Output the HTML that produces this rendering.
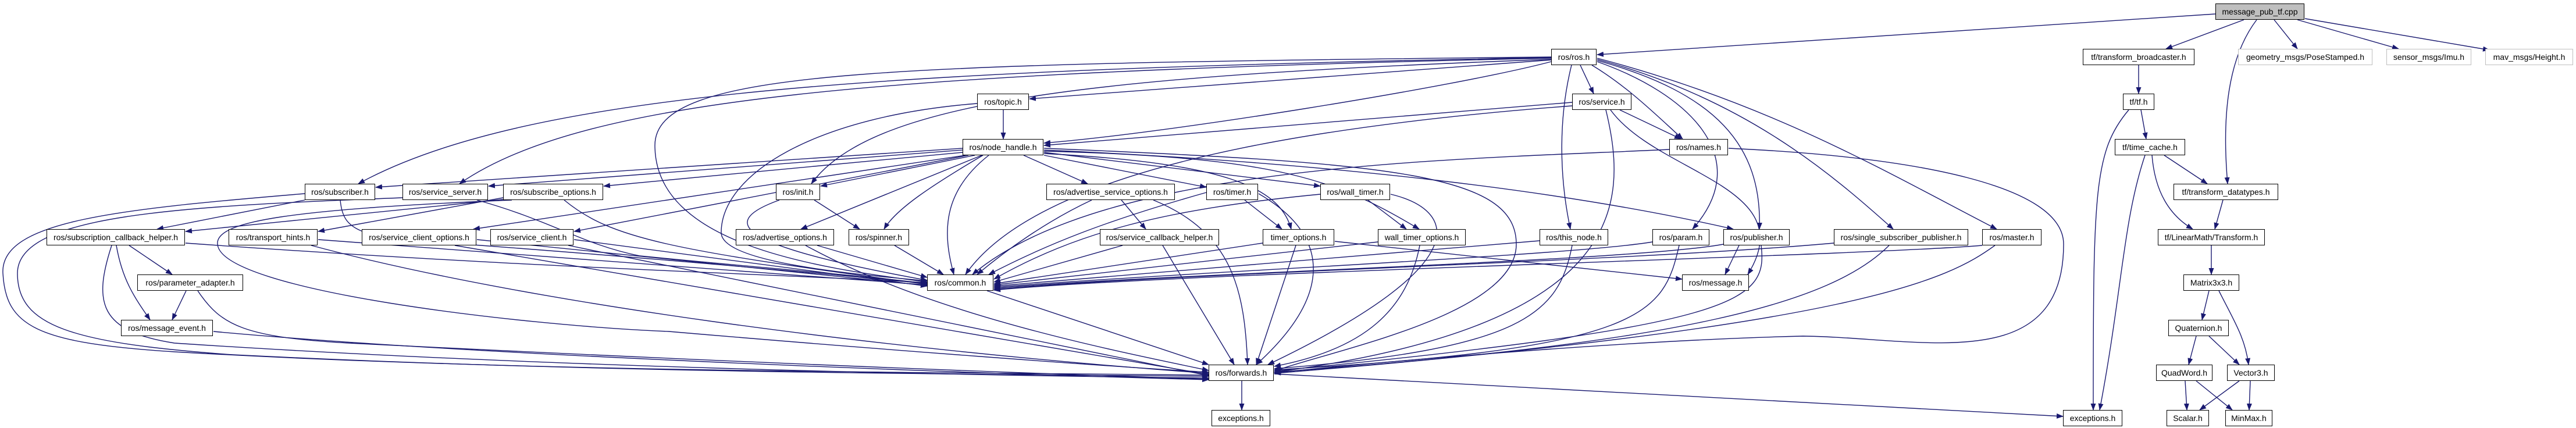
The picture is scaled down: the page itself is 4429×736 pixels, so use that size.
<!DOCTYPE html>
<html><head><meta charset="utf-8"><style>
body{margin:0;width:4429px;height:736px;background:#fff;overflow:hidden;position:relative;font-family:"Liberation Sans",sans-serif}
svg{position:absolute;left:0;top:0}
.n{position:absolute;height:26px;border:1.5px solid #000;background:#fff;font-size:14px;line-height:26px;text-align:center;white-space:nowrap;color:#000;box-sizing:content-box}
.g{border-color:#bfbfbf}
.c{background:#bfbfbf}
</style></head><body>
<svg width="4429" height="736" viewBox="0 0 4429 736">
<defs><marker id="a" markerWidth="12" markerHeight="9" refX="11" refY="4.5" orient="auto" markerUnits="userSpaceOnUse"><path d="M0,0 L12,4.5 L0,9z" fill="#191970"/></marker></defs>
<g fill="none" stroke="#191970" stroke-width="1.4" marker-end="url(#a)">
<path d="M3809 24 L2746 94"/>
<path d="M3858 34 L3724 84"/>
<path d="M3880 34 C3830 100 3820 200 3830 316"/>
<path d="M3910 34 L3950 84"/>
<path d="M3950 34 L4124 84"/>
<path d="M3963 32 L4280 86"/>
<path d="M3677 112 L3677 161"/>
<path d="M3660 189 C3600 260 3599 330 3599 705"/>
<path d="M3681 189 L3690 239"/>
<path d="M3688 267 C3650 380 3649 500 3610 705"/>
<path d="M3721 267 L3795 316"/>
<path d="M3700 267 C3705 330 3730 370 3770 394"/>
<path d="M3822 344 L3808 394"/>
<path d="M3802 422 L3802 472"/>
<path d="M3798 500 L3786 550"/>
<path d="M3815 500 C3840 550 3860 580 3866 627"/>
<path d="M3776 578 L3763 627"/>
<path d="M3798 578 L3850 627"/>
<path d="M3757 655 L3760 705"/>
<path d="M3776 655 L3838 705"/>
<path d="M3850 655 L3782 705"/>
<path d="M3869 655 L3867 705"/>
<path d="M2717 112 L2740 161"/>
<path d="M2737 112 C2800 150 2850 200 2893 239"/>
<path d="M2702 112 C2680 200 2680 300 2700 394"/>
<path d="M2746 106 C2900 160 3020 270 2910 394"/>
<path d="M2746 104 C2950 160 3030 250 3025 394"/>
<path d="M2746 102 C3000 170 3150 300 3255 394"/>
<path d="M2746 100 C3050 180 3250 300 3433 394"/>
<path d="M2667 103 L1770 170"/>
<path d="M2667 106 C2500 150 2000 230 1795 246"/>
<path d="M2667 99 C1500 120 900 160 616 316"/>
<path d="M2667 100 C1500 125 1000 170 790 316"/>
<path d="M2667 102 C1900 130 1500 170 1395 316"/>
<path d="M2667 98 C1500 110 1126 120 1126 250 C1126 420 1400 460 1594 485"/>
<path d="M2785 189 L2890 239"/>
<path d="M2703 176 L1795 250"/>
<path d="M2761 189 C2800 350 2800 560 2191 640"/>
<path d="M2769 189 C2850 300 3100 320 3005 472"/>
<path d="M2703 182 C2200 220 1780 300 1660 472"/>
<path d="M2870 257 C2500 275 1900 280 1672 472"/>
<path d="M2972 255 C3300 270 3548 320 3548 420 C3548 650 3300 580 3100 578 C2800 585 2400 620 2191 641"/>
<path d="M1725 189 L1725 239"/>
<path d="M1680 178 C1400 200 1240 300 1240 400 C1240 450 1450 470 1594 483"/>
<path d="M1655 255 L646 322"/>
<path d="M1655 258 L840 320"/>
<path d="M1655 262 L1038 320"/>
<path d="M1676 267 L1411 320"/>
<path d="M1688 267 L1377 394"/>
<path d="M1690 267 C1600 320 1540 360 1520 394"/>
<path d="M1700 267 C1620 330 1620 400 1640 472"/>
<path d="M1760 267 L1870 316"/>
<path d="M1795 267 L2074 322"/>
<path d="M1795 262 L2270 320"/>
<path d="M1795 264 C2100 280 2200 320 2220 394"/>
<path d="M1795 260 C2200 270 2300 310 2440 394"/>
<path d="M1795 258 C2300 280 2700 330 2980 394"/>
<path d="M1795 255 C2400 280 2607 300 2607 420 C2607 540 2300 600 2191 638"/>
<path d="M1660 267 L814 394"/>
<path d="M1665 267 L987 398"/>
<path d="M524 333 C200 360 0 380 5 470 C10 560 60 590 300 605 C900 640 1600 640 2078 645"/>
<path d="M692 340 C300 355 30 370 30 470 C30 560 120 590 400 610 C1000 640 1600 643 2078 647"/>
<path d="M880 344 C500 360 370 380 374 420 C380 500 900 560 1150 570 C1500 600 1900 630 2078 640"/>
<path d="M192 422 C160 520 170 570 300 590 C900 630 1600 645 2078 650"/>
<path d="M200 422 C210 480 230 510 258 550"/>
<path d="M222 422 L296 472"/>
<path d="M319 418 C900 460 1300 470 1594 486"/>
<path d="M320 500 L296 550"/>
<path d="M340 500 C380 560 420 580 600 590 C1200 620 1700 640 2078 652"/>
<path d="M367 570 C800 610 1600 640 2078 653"/>
<path d="M524 344 L270 394"/>
<path d="M585 344 C590 400 620 410 800 420 C1200 450 1400 470 1594 487"/>
<path d="M820 344 C950 380 1000 420 1100 440 C1300 460 1500 475 1594 488"/>
<path d="M865 343 L319 398"/>
<path d="M865 340 L547 398"/>
<path d="M970 344 C1050 410 1150 430 1594 489"/>
<path d="M547 412 L1594 490"/>
<path d="M535 422 C900 520 1500 600 2078 642"/>
<path d="M820 412 L1594 491"/>
<path d="M782 422 L2078 644"/>
<path d="M987 412 L1594 492"/>
<path d="M977 422 L2078 646"/>
<path d="M1400 344 L1478 394"/>
<path d="M1340 344 C1240 380 1250 420 1594 482"/>
<path d="M1405 422 L1594 477"/>
<path d="M1385 422 C1600 540 1900 600 2078 637"/>
<path d="M1538 422 L1622 472"/>
<path d="M1877 344 C1800 380 1730 430 1680 472"/>
<path d="M1928 344 L1970 394"/>
<path d="M1983 344 C2120 400 2140 500 2145 627"/>
<path d="M1930 422 L1709 485"/>
<path d="M1999 422 L2122 627"/>
<path d="M2074 331 C1900 380 1800 420 1700 472"/>
<path d="M2140 344 L2204 394"/>
<path d="M2164 333 C2280 400 2300 500 2160 627"/>
<path d="M2270 334 C2000 360 1850 400 1709 480"/>
<path d="M2352 344 L2418 394"/>
<path d="M2391 334 C2500 360 2550 450 2180 627"/>
<path d="M2171 418 L1709 488"/>
<path d="M2228 422 L2160 627"/>
<path d="M2369 416 L1709 490"/>
<path d="M2441 422 C2420 530 2350 600 2191 630"/>
<path d="M2647 414 L1709 492"/>
<path d="M2703 422 C2680 540 2620 600 2191 634"/>
<path d="M2841 416 C2700 440 2000 470 1709 494"/>
<path d="M2887 422 C2860 540 2830 600 2191 636"/>
<path d="M2963 420 C2800 450 2000 470 1709 496"/>
<path d="M2990 422 L2966 472"/>
<path d="M3028 422 C3040 520 2990 560 2191 638"/>
<path d="M3153 418 C2800 450 2000 470 1709 498"/>
<path d="M3248 422 C3150 520 2900 590 2191 640"/>
<path d="M3408 422 C3200 440 2000 470 1709 499"/>
<path d="M3430 422 C3350 480 3200 560 2191 642"/>
<path d="M2295 415 L2892 480"/>
<path d="M1697 500 L2078 627"/>
<path d="M2135 655 L2135 705"/>
<path d="M2191 643 L3547 716"/>
</g></svg>
<div class="n c" style="left:3809px;top:6px;width:151px">message_pub_tf.cpp</div>
<div class="n" style="left:2667px;top:84px;width:76px">ros/ros.h</div>
<div class="n" style="left:3581px;top:84px;width:190px">tf/transform_broadcaster.h</div>
<div class="n g" style="left:3848px;top:84px;width:229px">geometry_msgs/PoseStamped.h</div>
<div class="n g" style="left:4103px;top:84px;width:144px">sensor_msgs/Imu.h</div>
<div class="n g" style="left:4273px;top:84px;width:149px">mav_msgs/Height.h</div>
<div class="n" style="left:1680px;top:161px;width:87px">ros/topic.h</div>
<div class="n" style="left:2703px;top:161px;width:100px">ros/service.h</div>
<div class="n" style="left:3650px;top:161px;width:52px">tf/tf.h</div>
<div class="n" style="left:1655px;top:239px;width:137px">ros/node_handle.h</div>
<div class="n" style="left:2870px;top:239px;width:99px">ros/names.h</div>
<div class="n" style="left:3636px;top:239px;width:119px">tf/time_cache.h</div>
<div class="n" style="left:524px;top:316px;width:119px">ros/subscriber.h</div>
<div class="n" style="left:692px;top:316px;width:145px">ros/service_server.h</div>
<div class="n" style="left:865px;top:316px;width:170px">ros/subscribe_options.h</div>
<div class="n" style="left:1334px;top:316px;width:74px">ros/init.h</div>
<div class="n" style="left:1799px;top:316px;width:219px">ros/advertise_service_options.h</div>
<div class="n" style="left:2074px;top:316px;width:87px">ros/timer.h</div>
<div class="n" style="left:2270px;top:316px;width:118px">ros/wall_timer.h</div>
<div class="n" style="left:3737px;top:316px;width:178px">tf/transform_datatypes.h</div>
<div class="n" style="left:80px;top:394px;width:236px">ros/subscription_callback_helper.h</div>
<div class="n" style="left:393px;top:394px;width:151px">ros/transport_hints.h</div>
<div class="n" style="left:622px;top:394px;width:195px">ros/service_client_options.h</div>
<div class="n" style="left:843px;top:394px;width:141px">ros/service_client.h</div>
<div class="n" style="left:1265px;top:394px;width:167px">ros/advertise_options.h</div>
<div class="n" style="left:1459px;top:394px;width:102px">ros/spinner.h</div>
<div class="n" style="left:1891px;top:394px;width:203px">ros/service_callback_helper.h</div>
<div class="n" style="left:2171px;top:394px;width:121px">timer_options.h</div>
<div class="n" style="left:2369px;top:394px;width:149px">wall_timer_options.h</div>
<div class="n" style="left:2647px;top:394px;width:116px">ros/this_node.h</div>
<div class="n" style="left:2841px;top:394px;width:96px">ros/param.h</div>
<div class="n" style="left:2963px;top:394px;width:112px">ros/publisher.h</div>
<div class="n" style="left:3153px;top:394px;width:229px">ros/single_subscriber_publisher.h</div>
<div class="n" style="left:3408px;top:394px;width:100px">ros/master.h</div>
<div class="n" style="left:3710px;top:394px;width:182px">tf/LinearMath/Transform.h</div>
<div class="n" style="left:1594px;top:472px;width:112px">ros/common.h</div>
<div class="n" style="left:236px;top:472px;width:180px">ros/parameter_adapter.h</div>
<div class="n" style="left:2892px;top:472px;width:113px">ros/message.h</div>
<div class="n" style="left:3754px;top:472px;width:94px">Matrix3x3.h</div>
<div class="n" style="left:208px;top:550px;width:156px">ros/message_event.h</div>
<div class="n" style="left:3728px;top:550px;width:102px">Quaternion.h</div>
<div class="n" style="left:2078px;top:627px;width:110px">ros/forwards.h</div>
<div class="n" style="left:3707px;top:627px;width:95px">QuadWord.h</div>
<div class="n" style="left:3829px;top:627px;width:80px">Vector3.h</div>
<div class="n" style="left:2083px;top:705px;width:99px">exceptions.h</div>
<div class="n" style="left:3547px;top:705px;width:100px">exceptions.h</div>
<div class="n" style="left:3725px;top:705px;width:71px">Scalar.h</div>
<div class="n" style="left:3826px;top:705px;width:79px">MinMax.h</div>
</body></html>
